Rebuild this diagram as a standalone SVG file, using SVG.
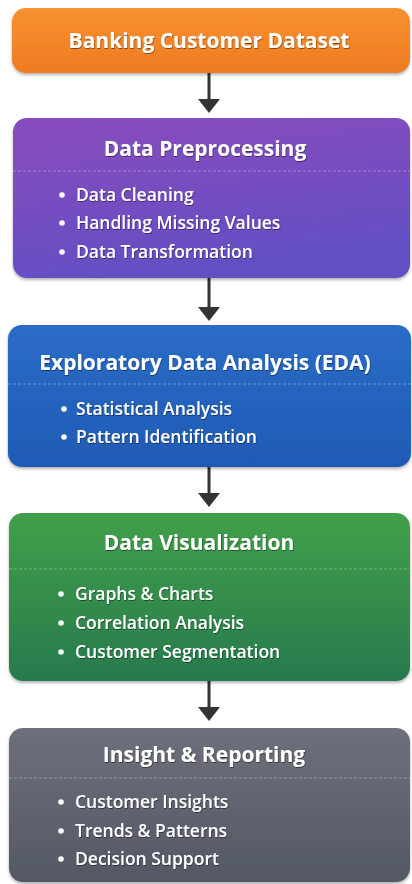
<svg xmlns="http://www.w3.org/2000/svg" width="412" height="884" viewBox="0 0 412 884">
  <defs>
    <linearGradient id="gOrange" x1="0" y1="0" x2="0" y2="1">
      <stop offset="0" stop-color="#F8912F"/>
      <stop offset="1" stop-color="#EE7B22"/>
    </linearGradient>
    <linearGradient id="gPurple" x1="0" y1="0" x2="0.3" y2="1">
      <stop offset="0" stop-color="#8A4CBC"/>
      <stop offset="1" stop-color="#634FC4"/>
    </linearGradient>
    <linearGradient id="gBlue" x1="0" y1="0" x2="0" y2="1">
      <stop offset="0" stop-color="#2B6DC6"/>
      <stop offset="1" stop-color="#1F5AB5"/>
    </linearGradient>
    <linearGradient id="gGreen" x1="0" y1="0" x2="0" y2="1">
      <stop offset="0" stop-color="#41A04A"/>
      <stop offset="1" stop-color="#277A4E"/>
    </linearGradient>
    <linearGradient id="gGray" x1="0" y1="0" x2="0" y2="1">
      <stop offset="0" stop-color="#6D707C"/>
      <stop offset="1" stop-color="#545864"/>
    </linearGradient>
    <filter id="boxShadow" x="-5%" y="-10%" width="110%" height="125%">
      <feDropShadow dx="0" dy="2" stdDeviation="1.5" flood-color="#000" flood-opacity="0.3"/>
    </filter>
    <filter id="textShadow" x="-5%" y="-30%" width="110%" height="160%">
      <feDropShadow dx="0.6" dy="1" stdDeviation="0.6" flood-color="#000" flood-opacity="0.45"/>
    </filter>
  </defs>
  <style>
    .box { filter: url(#boxShadow); }
    .title { font-family: "Open Sans", "Liberation Sans", sans-serif; font-weight: 700; font-size: 21px; fill: #FFFFFF; text-anchor: middle; filter: url(#textShadow); }
    .item { font-family: "Open Sans", "Liberation Sans", sans-serif; font-weight: 600; font-size: 17.5px; fill: #FFFFFF; filter: url(#textShadow); }
    .dot { fill: #FFFFFF; }
    .sep { stroke: #FFFFFF; stroke-opacity: 0.3; stroke-width: 1; stroke-dasharray: 3 2; }
    .conn { stroke: #333333; stroke-width: 3; fill: none; }
    .head { fill: #333333; }
  </style>
  <rect width="412" height="884" fill="#FFFFFF"/>

  <!-- connectors between the stages -->
  <g id="connectors">
    <line class="conn" x1="209" y1="73" x2="209" y2="100"/>
    <path class="head" d="M198,99 L220,99 L209,113 Z"/>
    <line class="conn" x1="209" y1="278" x2="209" y2="308"/>
    <path class="head" d="M198,307 L220,307 L209,321 Z"/>
    <line class="conn" x1="209" y1="467" x2="209" y2="494"/>
    <path class="head" d="M198,493 L220,493 L209,507 Z"/>
    <line class="conn" x1="209" y1="681" x2="209" y2="708"/>
    <path class="head" d="M198,707 L220,707 L209,721 Z"/>
  </g>

  <!-- stage 1 -->
  <g id="dataset">
    <rect class="box" x="12" y="8" width="398" height="65" rx="14" fill="url(#gOrange)"/>
    <text class="title" x="209" y="48">Banking Customer Dataset</text>
  </g>

  <!-- stage 2 -->
  <g id="preprocessing">
    <rect class="box" x="13" y="118" width="397" height="160" rx="14" fill="url(#gPurple)"/>
    <text class="title" x="205" y="156">Data Preprocessing</text>
    <line class="sep" x1="13" y1="171" x2="410" y2="171"/>
    <circle class="dot" cx="62" cy="195" r="2.8"/>
    <text class="item" x="76" y="201">Data Cleaning</text>
    <circle class="dot" cx="62" cy="223" r="2.8"/>
    <text class="item" x="76" y="229">Handling Missing Values</text>
    <circle class="dot" cx="62" cy="252" r="2.8"/>
    <text class="item" x="76" y="258">Data Transformation</text>
  </g>

  <!-- stage 3 -->
  <g id="eda">
    <rect class="box" x="8" y="325" width="403" height="142" rx="14" fill="url(#gBlue)"/>
    <text class="title" x="205" y="370">Exploratory Data Analysis (EDA)</text>
    <line class="sep" x1="8" y1="384" x2="411" y2="384"/>
    <circle class="dot" cx="64" cy="409" r="2.8"/>
    <text class="item" x="76" y="415">Statistical Analysis</text>
    <circle class="dot" cx="64" cy="437" r="2.8"/>
    <text class="item" x="76" y="443">Pattern Identification</text>
  </g>

  <!-- stage 4 -->
  <g id="visualization">
    <rect class="box" x="9" y="513" width="401" height="168" rx="14" fill="url(#gGreen)"/>
    <text class="title" x="199" y="550">Data Visualization</text>
    <line class="sep" x1="9" y1="569" x2="410" y2="569"/>
    <circle class="dot" cx="61" cy="594" r="2.8"/>
    <text class="item" x="75" y="600">Graphs &amp; Charts</text>
    <circle class="dot" cx="61" cy="623" r="2.8"/>
    <text class="item" x="75" y="629">Correlation Analysis</text>
    <circle class="dot" cx="61" cy="652" r="2.8"/>
    <text class="item" x="75" y="658">Customer Segmentation</text>
  </g>

  <!-- stage 5 -->
  <g id="reporting">
    <rect class="box" x="9" y="728" width="401" height="154" rx="14" fill="url(#gGray)"/>
    <text class="title" x="204" y="762">Insight &amp; Reporting</text>
    <line class="sep" x1="9" y1="778" x2="410" y2="778"/>
    <circle class="dot" cx="61" cy="802" r="2.8"/>
    <text class="item" x="75" y="808">Customer Insights</text>
    <circle class="dot" cx="61" cy="831" r="2.8"/>
    <text class="item" x="75" y="837">Trends &amp; Patterns</text>
    <circle class="dot" cx="61" cy="859" r="2.8"/>
    <text class="item" x="75" y="865">Decision Support</text>
  </g>
</svg>
